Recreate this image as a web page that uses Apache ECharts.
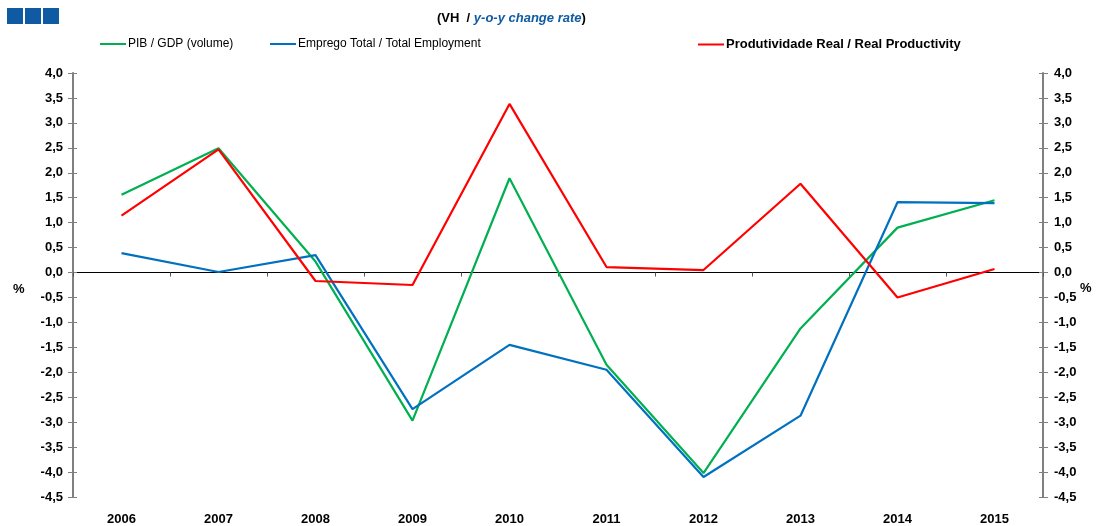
<!DOCTYPE html>
<html>
<head>
<meta charset="utf-8">
<script src="https://cdn.jsdelivr.net/npm/echarts@6/dist/echarts.min.js"></script>
<style>html,body{margin:0;padding:0;background:#fff}#c{width:1096px;height:526px}</style>
</head>
<body>
<div id="c"></div>
<script>
const years = ['2006','2007','2008','2009','2010','2011','2012','2013','2014','2015'];
const gdp = [1.56, 2.49, 0.22, -2.97, 1.89, -1.85, -4.02, -1.12, 0.90, 1.45];
const employment = [0.39, 0.01, 0.35, -2.74, -1.45, -1.95, -4.10, -2.87, 1.41, 1.39];
const productivity = [1.14, 2.47, -0.17, -0.25, 3.38, 0.11, 0.05, 1.78, -0.50, 0.07];
const seriesNames = ['PIB / GDP (volume)', 'Emprego Total / Total Employment', 'Produtividade Real / Real Productivity'];
const colors = ['#00b050', '#0070c0', '#ff0000'];

const FONT = '"Liberation Sans", Arial, sans-serif';
const chart = echarts.init(document.getElementById('c'), null, {renderer: 'canvas'});
const fmt = v => v.toFixed(1).replace('.', ',');
const yBase = {type: 'value', min: -4.5, max: 4.0, interval: 0.5, splitLine: {show: false}};
function legendAt(i, left, size, weight) {
  return {
    data: [seriesNames[i]], left: left, top: 38, icon: 'rect', itemWidth: 26, itemHeight: 2,
    itemGap: 0, padding: 0,
    textStyle: {fontFamily: FONT, fontSize: size, fontWeight: weight, color: '#000', padding: [0, 0, 0, -3]}
  };
}
chart.setOption({
  animation: false,
  textStyle: {fontFamily: FONT},
  legend: [legendAt(0, 100, 12, 'normal'), legendAt(1, 270, 12, 'normal'), legendAt(2, 698, 13, 'bold')],
  grid: {left: 73, right: 53, top: 73, bottom: 26},
  xAxis: [
    {type: 'category', data: years, boundaryGap: true,
     axisLine: {onZero: true, lineStyle: {color: '#000', width: 1}},
     axisTick: {show: true, length: 4, lineStyle: {color: '#555'}},
     axisLabel: {show: false}},
    {type: 'category', data: years, boundaryGap: true, position: 'bottom',
     axisLine: {show: false, onZero: false}, axisTick: {show: false},
     axisLabel: {fontFamily: FONT, fontSize: 13, fontWeight: 'bold', color: '#000', margin: 16}}
  ],
  yAxis: [
    Object.assign({}, yBase, {position: 'left',
      axisLine: {show: true, onZero: false, lineStyle: {color: '#808080', width: 2}},
      axisTick: {show: true, length: 5, lineStyle: {color: '#808080'}},
      axisLabel: {formatter: fmt, fontFamily: FONT, fontSize: 13, fontWeight: 'bold', color: '#000', margin: 10}}),
    Object.assign({}, yBase, {position: 'right',
      axisLine: {show: true, onZero: false, lineStyle: {color: '#808080', width: 2}},
      axisTick: {show: true, length: 5, lineStyle: {color: '#808080'}},
      axisLabel: {formatter: fmt, fontFamily: FONT, fontSize: 13, fontWeight: 'bold', color: '#000', margin: 11}}),
    Object.assign({}, yBase, {position: 'left',
      axisLine: {show: false, onZero: false},
      axisTick: {show: true, inside: true, length: 4, lineStyle: {color: '#808080'}},
      axisLabel: {show: false}}),
    Object.assign({}, yBase, {position: 'right',
      axisLine: {show: false, onZero: false},
      axisTick: {show: true, inside: true, length: 4, lineStyle: {color: '#808080'}},
      axisLabel: {show: false}})
  ],
  series: [
    {name: seriesNames[0], type: 'line', data: gdp, xAxisIndex: 0, yAxisIndex: 0, symbol: 'none',
     color: colors[0], lineStyle: {width: 2.2, color: colors[0]}, z: 3},
    {name: seriesNames[1], type: 'line', data: employment, xAxisIndex: 0, yAxisIndex: 0, symbol: 'none',
     color: colors[1], lineStyle: {width: 2.2, color: colors[1]}, z: 4},
    {name: seriesNames[2], type: 'line', data: productivity, xAxisIndex: 0, yAxisIndex: 0, symbol: 'none',
     color: colors[2], lineStyle: {width: 2.2, color: colors[2]}, z: 5}
  ],
  graphic: [
    {type: 'rect', left: 7, top: 8, shape: {width: 16, height: 16}, style: {fill: '#0f5aa2'}},
    {type: 'rect', left: 25, top: 8, shape: {width: 16, height: 16}, style: {fill: '#0f5aa2'}},
    {type: 'rect', left: 43, top: 8, shape: {width: 16, height: 16}, style: {fill: '#0f5aa2'}},
    {type: 'text', left: 437, top: 12, style: {
      text: '{b|(VH  / }{i|y-o-y change rate}{b|)}',
      rich: {
        b: {fontFamily: FONT, fontSize: 13, fontWeight: 'bold', fill: '#000'},
        i: {fontFamily: FONT, fontSize: 13, fontWeight: 'bold', fontStyle: 'italic', fill: '#0f5aa2'}
      }}},
    {type: 'text', left: 13, top: 283, style: {text: '%', font: 'bold 13px ' + FONT, fill: '#000'}},
    {type: 'text', left: 1080, top: 282, style: {text: '%', font: 'bold 13px ' + FONT, fill: '#000'}}
  ]
});
</script>
</body>
</html>
